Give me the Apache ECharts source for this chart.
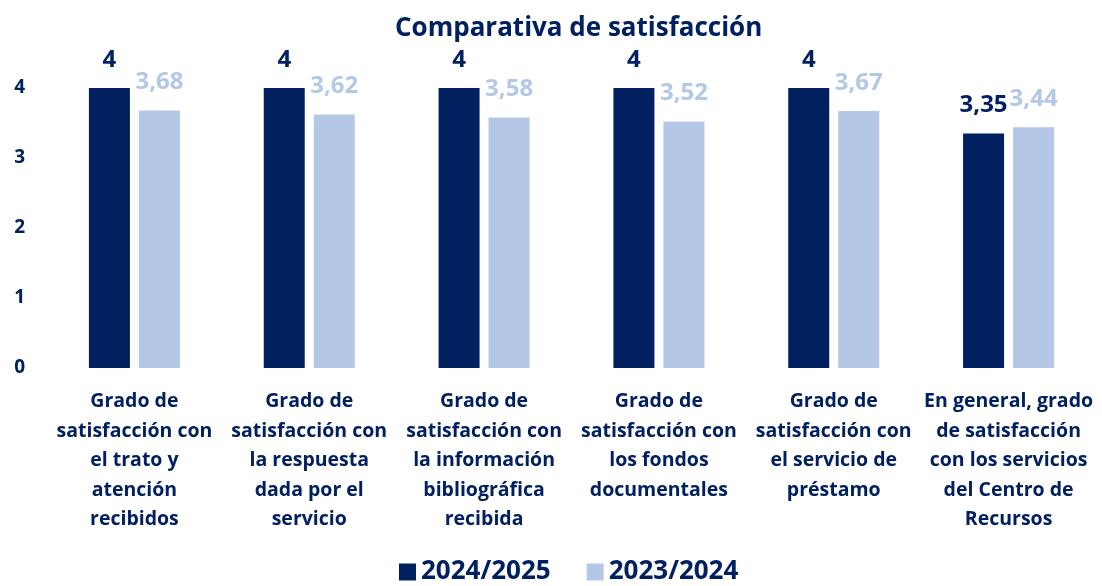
<!DOCTYPE html>
<html><head><meta charset="utf-8">
<script src="https://cdn.jsdelivr.net/npm/echarts@6/dist/echarts.min.js"></script>
<style>html,body{margin:0;padding:0;background:#fff}#c{width:1102px;height:586px}</style>
</head><body><div id="c"></div>
<script>
var categories = [
  "Grado de\nsatisfacción con\nel trato y\natención\nrecibidos",
  "Grado de\nsatisfacción con\nla respuesta\ndada por el\nservicio",
  "Grado de\nsatisfacción con\nla información\nbibliográfica\nrecibida",
  "Grado de\nsatisfacción con\nlos fondos\ndocumentales",
  "Grado de\nsatisfacción con\nel servicio de\npréstamo",
  "En general, grado\nde satisfacción\ncon los servicios\ndel Centro de\nRecursos"
];
var series2425 = [4, 4, 4, 4, 4, 3.35];
var series2324 = [3.68, 3.62, 3.58, 3.52, 3.67, 3.44];
var yTicks = [0, 1, 2, 3, 4];
var FONT = "Open Sans";
var DARK = "#002060", LIGHT = "#B4C7E7";
function fmt(p){ return String(p.value).replace('.', ','); }
var chart = echarts.init(document.getElementById('c'));
chart.setOption({
  animation: false,
  title: {text: "Comparativa de satisfacción", left: 390, top: 11,
    textStyle: {fontFamily: FONT, fontWeight: 'bold', fontSize: 26, color: DARK}},
  legend: {bottom: -4, left: 394, itemWidth: 17, itemHeight: 17, itemGap: 36, icon: 'rect',
    textStyle: {fontFamily: FONT, fontWeight: 'bold', fontSize: 26, color: DARK}},
  grid: {left: 47, right: 6, top: 88, bottom: 218, containLabel: false},
  xAxis: {type: 'category', data: categories,
    axisLine: {show: false}, axisTick: {show: false},
    axisLabel: {interval: 0, margin: 19, lineHeight: 29.5, fontFamily: FONT, fontWeight: 'bold', fontSize: 19.5, color: DARK}},
  yAxis: {type: 'value', min: 0, max: 4, interval: 1,
    splitLine: {show: false}, axisLine: {show: false}, axisTick: {show: false},
    axisLabel: {margin: 22, fontFamily: FONT, fontWeight: 'bold', fontSize: 19, color: DARK,
      formatter: function(v){ return yTicks.indexOf(v) >= 0 ? String(v) : ''; }}},
  series: [
    {name: '2024/2025', type: 'bar', data: series2425, barWidth: 41, barGap: '22%',
      itemStyle: {color: DARK},
      label: {show: true, position: 'top', distance: 16, formatter: fmt,
        fontFamily: FONT, fontWeight: 'bold', fontSize: 24, color: DARK}},
    {name: '2023/2024', type: 'bar', data: series2324, barWidth: 41,
      itemStyle: {color: LIGHT},
      label: {show: true, position: 'top', distance: 16, formatter: fmt,
        fontFamily: FONT, fontWeight: 'bold', fontSize: 24, color: LIGHT}}
  ]
});
</script></body></html>
